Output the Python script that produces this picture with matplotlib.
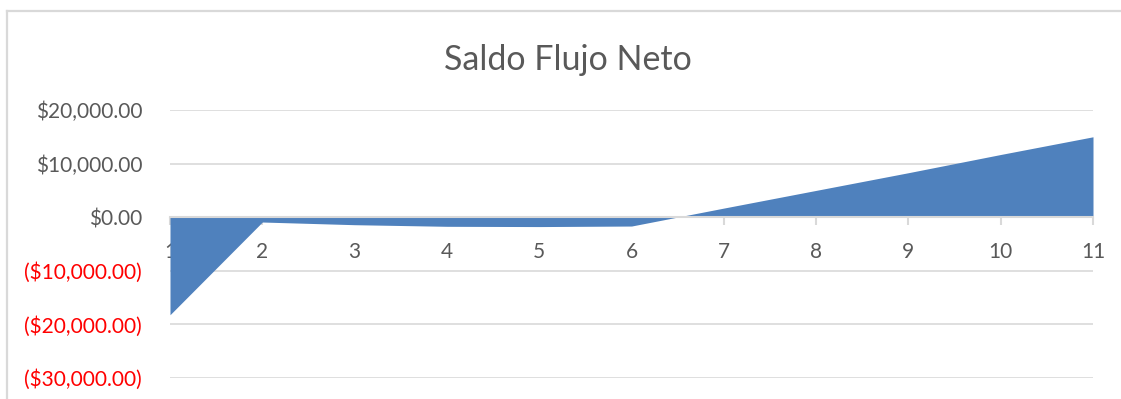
import matplotlib.pyplot as plt
from matplotlib.lines import Line2D
from matplotlib.ticker import FuncFormatter

# Saldo neto por periodo
periodos = [1, 2, 3, 4, 5, 6, 7, 8, 9, 10, 11]
saldo = [-18200, -900, -1400, -1700, -1750, -1650, 1700, 5000, 8300, 11700, 15000]
y_ticks = [20000, 10000, 0, -10000, -20000, -30000]

W, H = 1121, 399
fig = plt.figure(figsize=(W / 100, H / 100), dpi=100, facecolor='white')
plt.rcParams['font.family'] = ['Lato', 'DejaVu Sans']

# plot area in pixels: left 170, right 1093, top 110, bottom 378
ax = fig.add_axes([170 / W, (H - 378) / H, (1093 - 170) / W, (378 - 110) / H])
ax.set_facecolor('white')

ax.fill_between(periodos, saldo, 0, color='#4F81BD', linewidth=0, zorder=2)

ax.set_xlim(1, 11)
ax.set_ylim(-30000, 20000)
ax.set_xticks(periodos)
ax.set_yticks(y_ticks)

def money(v, p):
    if v < 0:
        return f'(${-v:,.2f})'
    return f'${v:,.2f}'

ax.yaxis.set_major_formatter(FuncFormatter(money))
ax.grid(axis='y', color='#D9D9D9', linewidth=1.2, zorder=0)
ax.set_axisbelow(True)

for s in ['top', 'right', 'left']:
    ax.spines[s].set_visible(False)
ax.spines['bottom'].set_position(('data', 0))
ax.spines['bottom'].set_color('#D9D9D9')
ax.spines['bottom'].set_linewidth(1.5)
ax.spines['bottom'].set_zorder(3)

ax.tick_params(axis='x', direction='out', length=6, width=1.5, color='#D9D9D9',
               labelsize=15, labelcolor='#595959', pad=12)
ax.tick_params(axis='y', length=0, labelsize=15, labelcolor='#595959', pad=20)

for lbl, v in zip(ax.get_yticklabels(), y_ticks):
    if v < 0:
        lbl.set_color('#FF0000')

fig.text(568 / W, 1 - 60 / H, 'Saldo Flujo Neto', ha='center', va='center',
         fontsize=24.5, color='#595959')

# chart border
fig.add_artist(Line2D([7 / W, 7 / W], [1 - 11 / H, 0], transform=fig.transFigure,
                      color='#D9D9D9', linewidth=1.6))
fig.add_artist(Line2D([7 / W, 1], [1 - 11 / H, 1 - 11 / H], transform=fig.transFigure,
                      color='#D9D9D9', linewidth=1.6))

fig.savefig('out.png', dpi=100, facecolor='white')
